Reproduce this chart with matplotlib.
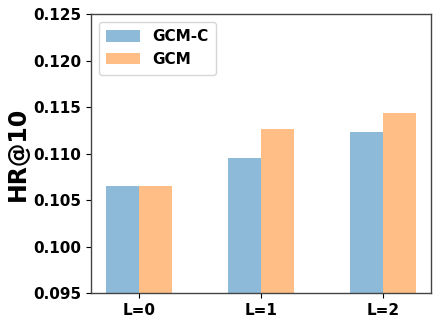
import matplotlib
matplotlib.use("Agg")
import matplotlib.pyplot as plt
import numpy as np

categories = ["L=0", "L=1", "L=2"]
gcm_c = [0.1065, 0.1095, 0.1123]
gcm = [0.1065, 0.1126, 0.1144]

fig = plt.figure(figsize=(4.42, 3.23), dpi=100)
ax = fig.add_axes([91/442, 1-293/323, 340/442, 279/323])
x = np.arange(len(categories))
w = 0.27
ax.bar(x - w/2, gcm_c, w, color="tab:blue", alpha=0.5, label="GCM-C")
ax.bar(x + w/2, gcm, w, color="tab:orange", alpha=0.5, label="GCM")
ax.set_ylim(0.095, 0.125)
ax.set_yticks([0.095, 0.100, 0.105, 0.110, 0.115, 0.120, 0.125])
ax.set_xticks(x)
ax.set_xticklabels(categories)
for lab in ax.get_xticklabels() + ax.get_yticklabels():
    lab.set_fontweight("bold")
    lab.set_fontsize(11)
ax.set_ylabel("HR@10", fontsize=17, fontweight="bold", labelpad=2)
for s in ax.spines.values():
    s.set_color("#444444")
    s.set_linewidth(1.0)
leg = ax.legend(loc="upper left", prop={"weight": "bold", "size": 11}, borderpad=0.5,
                handlelength=2.2, handleheight=0.8, handletextpad=0.8, labelspacing=0.5)
fig.savefig("out.png", dpi=100)
